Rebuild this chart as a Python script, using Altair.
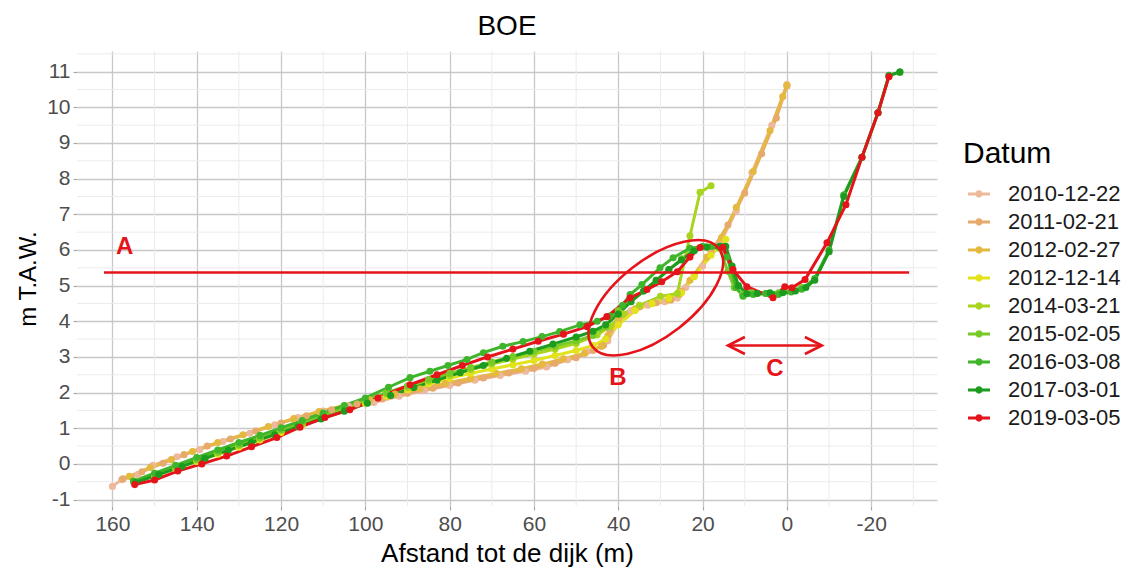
import altair as alt
import pandas as pd

# ---------------- data ----------------
dates = ["2010-12-22", "2011-02-21", "2012-02-27", "2012-12-14", "2014-03-21",
         "2015-02-05", "2016-03-08", "2017-03-01", "2019-03-05"]
colors = ["#EDB89B", "#E6AA6C", "#E5B840", "#E3E31C", "#A7D41E",
          "#78CA26", "#3FB52B", "#1C9B1F", "#E5141B"]

x_2010 = [160, 157.8, 154, 150.4, 144.7, 139.3, 133.8, 127.4, 121.5, 116, 110, 104, 98, 92, 86, 80,
          74, 68, 62, 57, 52, 47.4, 44, 42.5, 40, 37, 33, 29, 26, 24, 20, 16, 12, 8.3, 3.6, 0]
y_2010 = [-0.63, -0.44, -0.3, -0.04, 0.2, 0.4, 0.63, 0.86, 1.1, 1.3, 1.48, 1.62, 1.72, 1.9, 2.06, 2.2,
          2.35, 2.48, 2.6, 2.72, 2.92, 3.15, 3.3, 3.45, 3.95, 4.3, 4.45, 4.55, 4.65, 4.95, 5.55, 6.15, 7.1, 8.17, 9.5, 10.64]

x_2011 = [157.5, 153, 148, 143, 137.5, 132, 126, 120, 114, 108, 102, 96, 90, 84, 78, 72, 66, 60, 55,
          50, 46, 43.5, 42, 39, 35, 31, 27.5, 25, 22, 18, 14, 10, 6, 2.5, 0]
y_2011 = [-0.42, -0.22, 0.02, 0.26, 0.5, 0.7, 0.92, 1.15, 1.35, 1.52, 1.68, 1.82, 1.98, 2.12, 2.27, 2.41,
          2.55, 2.68, 2.82, 2.98, 3.18, 3.33, 3.75, 4.2, 4.4, 4.52, 4.6, 4.85, 5.3, 5.95, 6.7, 7.6, 8.7, 9.7, 10.6]

x_2012a = [156, 151, 146, 141, 135, 129, 123, 117, 111, 105, 99, 93, 87, 81, 75, 69, 63, 58, 53,
           48, 44, 42.5, 40, 36, 32, 28, 25.5, 23, 19, 15.5, 12, 8, 4, 1, 0]
y_2012a = [-0.35, -0.1, 0.12, 0.35, 0.6, 0.82, 1.05, 1.27, 1.47, 1.64, 1.8, 1.96, 2.11, 2.26, 2.4, 2.54,
           2.67, 2.8, 2.95, 3.1, 3.3, 3.6, 4.05, 4.35, 4.5, 4.6, 4.75, 5.15, 5.8, 6.35, 7.2, 8.2, 9.35, 10.3, 10.62]

x_2012b = [154.7, 150, 145, 140, 135, 130, 125, 120, 115, 110, 105, 100, 95, 90, 85, 80, 75, 70, 65,
           60, 55, 50, 46, 43, 40, 36, 32, 28, 25, 22, 18, 14.5]
y_2012b = [-0.52, -0.33, -0.13, 0.07, 0.27, 0.47, 0.67, 0.88, 1.08, 1.3, 1.5, 1.7, 1.9, 2.08, 2.25, 2.4,
           2.54, 2.66, 2.78, 2.9, 3.04, 3.18, 3.32, 3.5, 3.9, 4.3, 4.5, 4.65, 4.8, 5.25, 5.85, 6.3]

x_2014 = [155, 150, 145, 140, 135, 130, 125, 120, 115, 110, 105, 100, 95, 90, 85, 80, 75, 70, 65,
          60, 55, 50, 45, 42, 39, 35, 30, 26, 23, 20.6, 18]
y_2014 = [-0.48, -0.28, -0.08, 0.12, 0.32, 0.52, 0.72, 0.93, 1.13, 1.34, 1.55, 1.76, 1.96, 2.14, 2.32,
          2.48, 2.64, 2.8, 2.94, 3.08, 3.22, 3.38, 3.62, 3.85, 4.2, 4.45, 4.7, 4.78, 6.4, 7.62, 7.8]

x_2015 = [155, 150, 145, 140, 135, 130, 125, 120, 115, 110, 105, 100, 95, 90, 85, 80, 75, 70, 65,
          60, 55, 50, 46, 43, 40, 37, 34, 31, 28, 25, 22, 19, 16, 14, 12.5, 10.5, 8.3, 5, 2, -1, -3.5]
y_2015 = [-0.5, -0.3, -0.09, 0.12, 0.33, 0.54, 0.75, 0.96, 1.17, 1.38, 1.59, 1.8, 2.0, 2.19, 2.37,
          2.54, 2.7, 2.86, 3.01, 3.16, 3.3, 3.45, 3.6, 3.85, 4.3, 4.55, 4.85, 5.15, 5.45, 5.75, 6.0,
          6.08, 6.05, 5.4, 4.95, 4.75, 4.8, 4.78, 4.8, 4.85, 4.95]

x_2016 = [155, 150, 145, 140, 135, 130, 125, 120, 115, 110, 105, 100, 94.5, 89.4, 84.7, 80.4, 75.9,
          72, 67.4, 62.6, 58.1, 53.9, 49.1, 45, 42, 39, 37.2, 34.4, 30.1, 27, 23, 20, 17.8, 15.5, 14.2,
          12, 10.4, 8, 5, 2, -1, -3.5, -6.6, -10, -13.5, -17.8, -21.6, -24.2, -26.8]
y_2016 = [-0.48, -0.26, -0.04, 0.18, 0.39, 0.6, 0.8, 1.01, 1.22, 1.43, 1.64, 1.85, 2.15, 2.42, 2.6,
          2.76, 2.93, 3.12, 3.3, 3.43, 3.57, 3.71, 3.9, 4.0, 4.15, 4.45, 4.75, 5.03, 5.5, 5.78, 6.05,
          6.1, 6.1, 6.1, 5.8, 4.95, 4.7, 4.75, 4.78, 4.75, 4.82, 4.9, 5.2, 6.0, 7.55, 8.6, 9.85, 10.9, 10.98]

x_2017 = [154.5, 149, 143.5, 138, 132.5, 127, 121.5, 116, 110.5, 105, 99.5, 94, 88.5, 83, 77.5, 72,
          66.5, 61, 55.5, 50, 46, 43, 40, 37, 34, 31, 28, 25, 22, 19, 16, 14.5, 13, 11.5, 9.5, 7, 4, 1,
          -2, -4.5, -6.6, -10, -13.5, -17.8, -21.6, -24.2, -26.8]
y_2017 = [-0.52, -0.3, -0.07, 0.16, 0.38, 0.6, 0.82, 1.04, 1.26, 1.48, 1.7, 1.92, 2.14, 2.35, 2.56,
          2.76, 2.96, 3.16, 3.36, 3.56, 3.72, 3.9, 4.2, 4.55, 4.85, 5.15, 5.45, 5.72, 5.98, 6.08, 6.1,
          6.1, 5.55, 5.0, 4.78, 4.78, 4.8, 4.8, 4.85, 4.95, 5.15, 5.95, 7.5, 8.6, 9.85, 10.88, 11.0]

x_2019 = [154.7, 150, 144.5, 138.8, 132.9, 127, 121, 115.5, 109.6, 103.7, 97, 89.4, 83, 77, 71, 65,
          59, 53, 47.4, 42.7, 37.2, 33.2, 29.7, 26, 23, 20.6, 15.2, 12.8, 9.5, 3.3, 0.5, -1.2, -4.3,
          -9.5, -14, -17.8, -21.6, -24.2]
y_2019 = [-0.58, -0.45, -0.2, 0.0, 0.22, 0.48, 0.74, 1.03, 1.3, 1.52, 1.85, 2.22, 2.5, 2.76, 3.0,
          3.22, 3.44, 3.64, 3.85, 4.13, 4.66, 4.89, 5.11, 5.39, 5.8, 6.07, 6.07, 5.45, 4.97, 4.66, 4.97,
          4.94, 5.17, 6.2, 7.27, 8.6, 9.85, 10.86]

series_x = [x_2010, x_2011, x_2012a, x_2012b, x_2014, x_2015, x_2016, x_2017, x_2019]
series_y = [y_2010, y_2011, y_2012a, y_2012b, y_2014, y_2015, y_2016, y_2017, y_2019]

x_ticks = [160, 140, 120, 100, 80, 60, 40, 20, 0, -20]
y_ticks = list(range(-1, 12))
x_minor = [150, 130, 110, 90, 70, 50, 30, 10, -10, -30]
y_minor = [-0.5, 0.5, 1.5, 2.5, 3.5, 4.5, 5.5, 6.5, 7.5, 8.5, 9.5, 10.5, 11.5]

# annotations
ref_level = 5.37
ref_from, ref_to = 162, -29
labels = ["A", "B", "C"]
label_x = [157.1, 40.1, 2.85]
label_y = [6.07, 2.42, 2.65]
ellipse_center = (31.1, 4.66)
arrow_y = 3.32
arrow_from, arrow_to = 14, -8.3

RED = "#E5141B"
FONT = "Liberation Sans"

rows = []
for s, (d, xs, ys) in enumerate(zip(dates, series_x, series_y)):
    for xv, yv in zip(xs, ys):
        rows.append({"Datum": d, "s": s, "x": xv, "y": yv})
df = pd.DataFrame(rows)

x_enc = alt.X("x:Q",
              scale=alt.Scale(domain=[-35.6, 168.4], reverse=True, nice=False, zero=False),
              axis=alt.Axis(values=x_ticks, title="Afstand tot de dijk (m)",
                            labelExpr="toString(datum.value)", titleFontSize=26))
y_enc = alt.Y("y:Q",
              scale=alt.Scale(domain=[-1.18, 11.58], nice=False, zero=False),
              axis=alt.Axis(values=y_ticks, title="m T.A.W.",
                            labelExpr="toString(datum.value)", titleFontSize=24))

legend_shape = ("M -1 -0.14 L -0.25 -0.14 L -0.25 0.14 L -1 0.14 Z "
                "M 0.25 -0.14 L 1 -0.14 L 1 0.14 L 0.25 0.14 Z "
                "M -0.33 0 A 0.33 0.33 0 1 1 0.33 0 A 0.33 0.33 0 1 1 -0.33 0 Z")

color_scale = alt.Scale(domain=dates, range=colors)
legend = alt.Legend(title="Datum", orient="none", legendX=886, legendY=88,
                    symbolType=legend_shape, symbolSize=484,
                    symbolStrokeWidth=0, symbolOffset=5,
                    labelOffset=18, rowPadding=6, titlePadding=14,
                    titleFontSize=30, titleFontWeight="normal",
                    titleFont=FONT, labelFont=FONT, labelFontSize=22,
                    labelColor="#1A1A1A", titleColor="#000000",
                    symbolOpacity=1)

minor_v = alt.Chart(pd.DataFrame({"x": x_minor})).mark_rule(
    color="#EBEBEB", strokeWidth=1).encode(x=x_enc)
minor_h = alt.Chart(pd.DataFrame({"y": y_minor})).mark_rule(
    color="#EBEBEB", strokeWidth=1).encode(y=y_enc)

lines = alt.Chart(df).mark_line(strokeWidth=3).encode(
    x=x_enc, y=y_enc,
    color=alt.Color("Datum:N", scale=color_scale, legend=legend),
    order=alt.Order("x:Q", sort="descending"),
)

points = alt.Chart(df).mark_point(filled=True, size=50, opacity=1).encode(
    x=x_enc, y=y_enc,
    color=alt.Color("Datum:N", scale=color_scale, legend=legend),
    order=alt.Order("s:Q"),
)

ref_line = alt.Chart(pd.DataFrame({"x": [ref_from], "x2": [ref_to], "y": [ref_level]})).mark_rule(
    color=RED, strokeWidth=2.6).encode(x=x_enc, x2="x2:Q", y=y_enc)

ellipse_path = "M -1 0 A 1 0.475 0 1 1 1 0 A 1 0.475 0 1 1 -1 0 Z"
ellipse = alt.Chart(pd.DataFrame({"x": [ellipse_center[0]], "y": [ellipse_center[1]]})).mark_point(
    shape=ellipse_path, size=25600, angle=322, filled=False, stroke=RED, strokeWidth=2.6,
    opacity=1).encode(x=x_enc, y=y_enc)

arrow_shaft = alt.Chart(pd.DataFrame({"x": [arrow_from], "x2": [arrow_to], "y": [arrow_y]})).mark_rule(
    color=RED, strokeWidth=2.6).encode(x=x_enc, x2="x2:Q", y=y_enc)
head_left = alt.Chart(pd.DataFrame({"x": [arrow_from], "y": [arrow_y]})).mark_point(
    shape="M 1 -0.5 L 0 0 L 1 0.5", size=1156, filled=False, stroke=RED, strokeWidth=2.6,
    opacity=1).encode(x=x_enc, y=y_enc)
head_right = alt.Chart(pd.DataFrame({"x": [arrow_to], "y": [arrow_y]})).mark_point(
    shape="M -1 -0.5 L 0 0 L -1 0.5", size=1156, filled=False, stroke=RED, strokeWidth=2.6,
    opacity=1).encode(x=x_enc, y=y_enc)

texts = alt.Chart(pd.DataFrame({"x": label_x, "y": label_y, "t": labels})).mark_text(
    font=FONT, fontWeight="bold", fontSize=24, color=RED, baseline="middle", align="center").encode(
    x=x_enc, y=y_enc, text="t:N")

chart = alt.layer(minor_v, minor_h, lines, points, ref_line, ellipse, arrow_shaft,
                  head_left, head_right, texts).properties(
    width=860, height=455,
    padding={"left": 77, "top": 51, "right": 190, "bottom": 63},
    autosize=alt.AutoSizeParams(type="none"),
    title=alt.TitleParams("BOE", fontSize=28, fontWeight="normal", font=FONT,
                          anchor="middle", offset=10, color="#000000"),
    background="white",
).configure_view(stroke=None).configure_axis(
    labelFont=FONT, labelFontSize=21, labelColor="#4D4D4D", labelPadding=3,
    titleFont=FONT, titleFontWeight="normal", titleColor="#000000",
    domain=False, ticks=True, tickColor="#A8A8A8", tickSize=4, tickWidth=1.2,
    grid=True, gridColor="#C8C8C8", gridWidth=1.3,
).configure_axisX(titlePadding=6).configure_axisY(titlePadding=6)

chart.save("out.html", embed_options={"renderer": "svg", "actions": False})
